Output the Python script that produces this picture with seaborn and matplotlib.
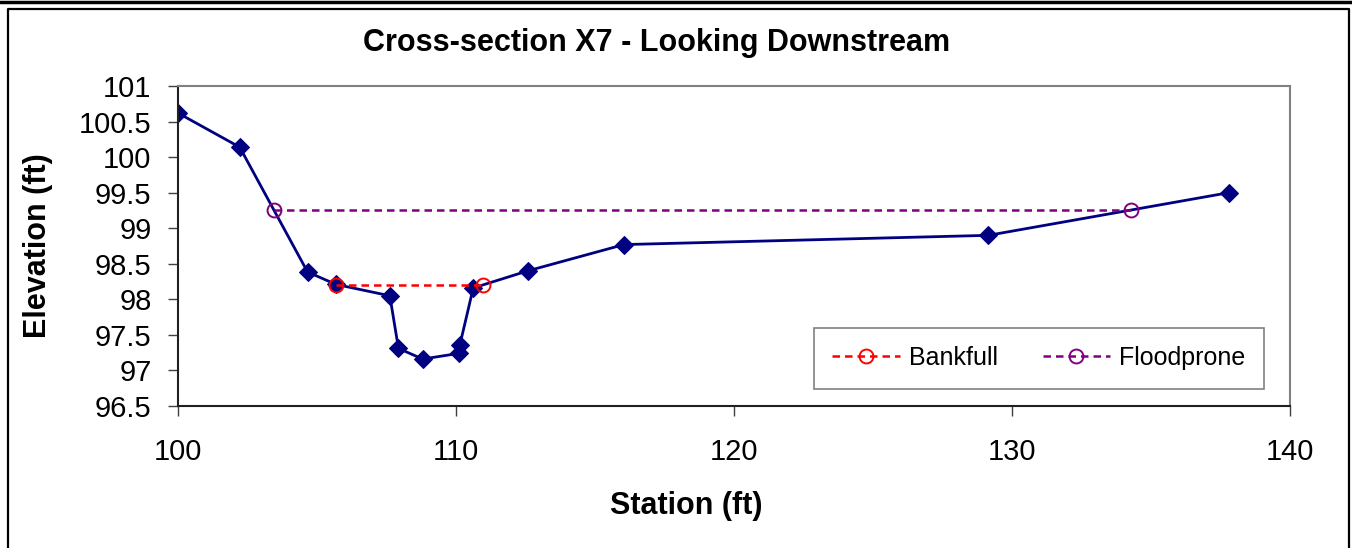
import numpy as np
import pandas as pd
import matplotlib
matplotlib.use("Agg")
import matplotlib.pyplot as plt
from matplotlib.lines import Line2D
import seaborn as sns

sns.set_style("white")
plt.rcParams['font.family'] = ['Liberation Sans', 'DejaVu Sans']
plt.rcParams['text.color'] = 'black'
plt.rcParams['xtick.color'] = 'black'
plt.rcParams['ytick.color'] = 'black'

# ground profile
station = [100.0, 102.22, 104.66, 105.68, 107.62, 107.93, 108.80, 110.10, 110.14,
           110.62, 112.58, 116.04, 129.15, 137.8]
elevation = [100.62, 100.14, 98.385, 98.21, 98.05, 97.31, 97.16, 97.24, 97.36,
             98.16, 98.40, 98.77, 98.90, 99.50]

bankfull_x = [105.68, 110.98]
bankfull_y = [98.2, 98.2]
flood_x = [103.46, 134.28]
flood_y = [99.25, 99.25]

ground = pd.DataFrame({"Station": station, "Elevation": elevation})
bank = pd.DataFrame({"Station": bankfull_x, "Elevation": bankfull_y})
flood = pd.DataFrame({"Station": flood_x, "Elevation": flood_y})

fig = plt.figure(figsize=(13.52, 5.48), dpi=100)
ax = fig.add_axes([178/1352, 1-406/548, (1290-178)/1352, 320/548])

sns.lineplot(data=ground, x="Station", y="Elevation", ax=ax, sort=False,
             color="#000080", lw=2, marker="D", markersize=9.5,
             markeredgecolor="#000080", label="_nolegend_")
sns.lineplot(data=bank, x="Station", y="Elevation", ax=ax, sort=False,
             color="#FF0000", lw=1.8, ls=(0, (3, 2)), marker="o", markersize=10,
             markerfacecolor="none", markeredgecolor="#FF0000", markeredgewidth=1.4,
             label="Bankfull")
sns.lineplot(data=flood, x="Station", y="Elevation", ax=ax, sort=False,
             color="#800080", lw=1.8, ls=(0, (3, 2)), marker="o", markersize=10,
             markerfacecolor="none", markeredgecolor="#800080", markeredgewidth=1.4,
             label="Floodprone")

ax.set_xlim(100, 140)
ax.set_ylim(96.5, 101)
ax.set_xticks([100, 110, 120, 130, 140])
ax.set_yticks(np.arange(96.5, 101.01, 0.5))
ax.set_yticklabels(["96.5", "97", "97.5", "98", "98.5", "99", "99.5", "100", "100.5", "101"])
ax.tick_params(axis="both", direction="out", length=7, width=1, color="#404040",
               labelsize=21, labelcolor="black", left=True, bottom=True)
ax.tick_params(axis="y", pad=12)
ax.tick_params(axis="x", pad=16)
ax.set_xlabel("")
ax.set_ylabel("")
for s in ["top", "right"]:
    ax.spines[s].set_color("#808080")
    ax.spines[s].set_linewidth(1.5)
for s in ["left", "bottom"]:
    ax.spines[s].set_color("#202020")
    ax.spines[s].set_linewidth(1.5)

leg = ax.legend(loc="center", bbox_to_anchor=(0.774, 0.15), ncol=2, fontsize=18,
                handlelength=2.7, handletextpad=0.35, columnspacing=1.8,
                borderpad=0.74, frameon=True, fancybox=False, framealpha=1)
leg.get_frame().set_edgecolor("#808080")
leg.get_frame().set_linewidth(1.2)
for t in leg.get_texts():
    t.set_color("black")

fig.text(657/1352, 1-43/548, "Cross-section X7 - Looking Downstream",
         ha="center", va="center", fontsize=22, fontweight="bold", color="black")
fig.text(686/1352, 1-506/548, "Station (ft)", ha="center", va="center",
         fontsize=22, fontweight="bold", color="black")
fig.text(38/1352, 1-246/548, "Elevation (ft)", ha="center", va="center",
         rotation=90, fontsize=22, fontweight="bold", color="black")

# outer chart border
fig.add_artist(Line2D([0, 1], [1-1.5/548, 1-1.5/548], transform=fig.transFigure,
                      color="black", lw=2.5))
fig.add_artist(Line2D([8/1352, 8/1352, 1349/1352, 1349/1352],
                      [0, 1-8.5/548, 1-8.5/548, 0], transform=fig.transFigure,
                      color="black", lw=1.6))

fig.savefig("out.png", dpi=100)
